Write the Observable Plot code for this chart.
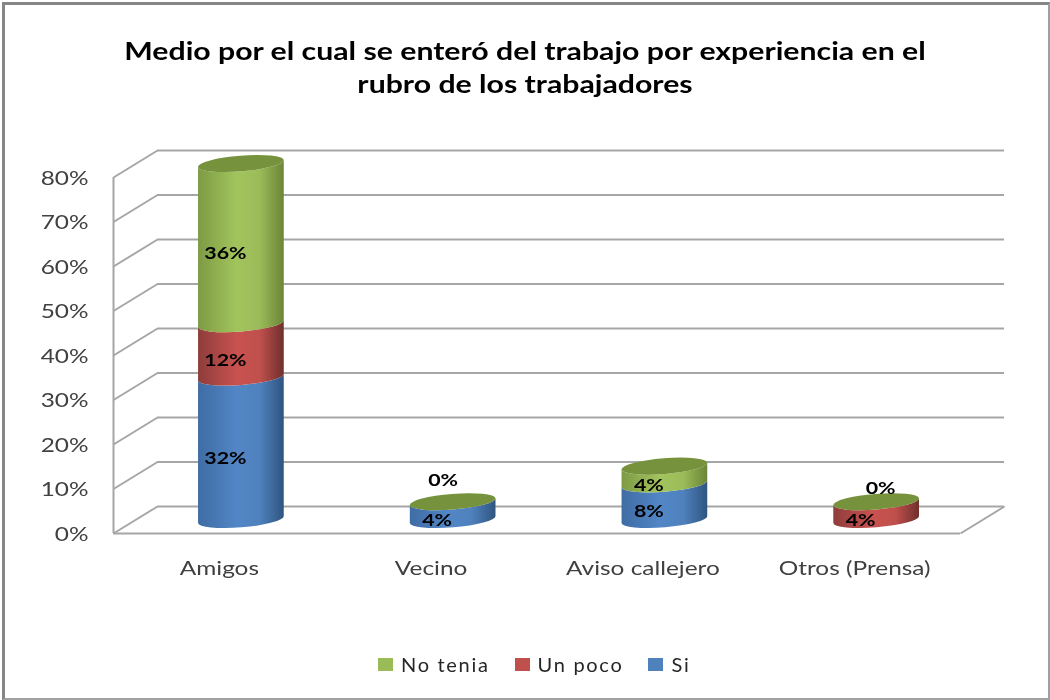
<!DOCTYPE html>
<html lang="es">
<head>
<meta charset="utf-8">
<script src="https://cdn.jsdelivr.net/npm/d3@7"></script>
<script src="https://cdn.jsdelivr.net/npm/@observablehq/plot@0.6"></script>
<style>
  html, body { margin: 0; padding: 0; background: #fff; }
  #page { position: relative; width: 1050px; height: 700px; overflow: hidden; font-family: Lato, sans-serif; filter: blur(0.45px); }
  #frame { position: absolute; left: 2px; top: 2px; width: 1043px; height: 693px; border: 3px solid #868686; border-right: 2px solid #a0a0a0; border-bottom: 2px solid #a0a0a0; pointer-events: none; }
  #title { position: absolute; left: 0; top: 34px; width: 1050px; text-align: center; font-weight: 700; font-size: 24px; line-height: 33px; color: #000; transform: scaleX(1.26); transform-origin: 525px 0; }
  #chart { position: absolute; left: 0; top: 130px; }
  #legend { position: absolute; left: 378px; top: 652px; display: flex; align-items: center; font-size: 20px; color: #262626; letter-spacing: 1.7px; }
  #legend i { display: inline-block; width: 15px; height: 13px; margin-right: 8px; }
  #legend span { margin-right: 25px; }
</style>
</head>
<body>
<div id="page">
  <div id="title">Medio por el cual se enteró del trabajo por experiencia en el<br>rubro de los trabajadores</div>
  <div id="chart"></div>
  <div id="legend"></div>
  <div id="frame"></div>
</div>
<script>
const categories = ["Amigos", "Vecino", "Aviso callejero", "Otros (Prensa)"];
const si = [32, 4, 8, 0];
const unPoco = [12, 0, 0, 4];
const noTenia = [36, 0, 4, 0];
const yTicks = [0, 10, 20, 30, 40, 50, 60, 70, 80];

const seriesList = [
  {name: "Si", values: si, id: "cyl-si", swatch: "#4f81bd", stops: ["#3f6ca4", "#5286c6", "#4f81bd", "#2f5580"]},
  {name: "Un poco", values: unPoco, id: "cyl-poco", swatch: "#c0504d", stops: ["#8e3d3b", "#c8524f", "#c0504d", "#6f2f2d"]},
  {name: "No tenia", values: noTenia, id: "cyl-no", swatch: "#9bbb59", stops: ["#7d9b45", "#a2c45c", "#9bbb59", "#6b8537"]}
];

// Depth of the 3D box, in data units of each scale
const depthX = 0.208, depthY = 6.07;
const halfW = 0.203;
const pos = categories.map((c, i) => i + 0.5);

// Segments built by cumulating the series
const segments = seriesList.map(s => s.values.map((v, i) => {
  const base = seriesList.slice(0, seriesList.indexOf(s)).reduce((a, o) => a + o.values[i], 0);
  return {i, v, y1: base, y2: base + v, name: s.name};
}));
const totals = categories.map((c, i) => seriesList.reduce((a, s) => a + s.values[i], 0));
const labels = segments.flat();

// Tilted elliptical ends: rect marks keep Plot's scales, the geometry is redrawn as a cylinder
const tilt = -4.6;
function ends(r) {
  const x = +r.getAttribute("x"), y = +r.getAttribute("y"), w = +r.getAttribute("width"), h = +r.getAttribute("height");
  const rx = w / 2, ry = w * 0.091, a = tilt * Math.PI / 180, cx = x + rx;
  return {rx, ry, hx: rx * Math.cos(a), hy: rx * Math.sin(a), cx, top: y, bot: y + h};
}
function swapPath(r, d) {
  const p = document.createElementNS("http://www.w3.org/2000/svg", "path");
  p.setAttribute("d", d);
  r.replaceWith(p);
}
function cylinderSide(index, scales, values, dims, context, next) {
  const g = next(index, scales, values, dims, context);
  g.querySelectorAll("rect").forEach(r => {
    const {rx, ry, hx, hy, cx, top, bot} = ends(r);
    swapPath(r, `M${cx - hx},${bot - hy}A${rx},${ry} ${tilt} 0 0 ${cx + hx},${bot + hy}L${cx + hx},${top + hy}A${rx},${ry} ${tilt} 0 1 ${cx - hx},${top - hy}Z`);
  });
  return g;
}
function cylinderCap(index, scales, values, dims, context, next) {
  const g = next(index, scales, values, dims, context);
  g.querySelectorAll("rect").forEach(r => {
    const {rx, ry, hx, hy, cx, top} = ends(r);
    swapPath(r, `M${cx - hx},${top - hy}A${rx},${ry} ${tilt} 1 0 ${cx + hx},${top + hy}A${rx},${ry} ${tilt} 1 0 ${cx - hx},${top - hy}Z`);
  });
  return g;
}
function gradients() {
  const defs = d3.create("svg:defs");
  seriesList.forEach(s => {
    const lg = defs.append("linearGradient").attr("id", s.id);
    [0, 0.45, 0.72, 1].forEach((o, k) => lg.append("stop").attr("offset", o).attr("stop-color", s.stops[k]));
  });
  return defs.node();
}

const gridStyle = {stroke: "#a6a6a6", strokeWidth: 2};
const plot = Plot.plot({
  width: 1050,
  height: 490,
  marginLeft: 113,
  marginRight: 90,
  marginTop: 47,
  marginBottom: 87,
  style: {background: "transparent", overflow: "visible"},
  x: {domain: [0, 4]},
  y: {domain: [0, 80]},
  marks: [
    gradients,
    // back wall grid and side wall diagonals
    Plot.ruleY(yTicks, {y: d => d + depthY, x1: depthX, x2: 4 + depthX, ...gridStyle}),
    Plot.link(yTicks, {x1: 0, x2: depthX, y1: d => d, y2: d => d + depthY, ...gridStyle}),
    // floor right edge, front edge, front vertical
    Plot.link([0], {x1: 4, x2: 4 + depthX, y1: 0, y2: depthY, ...gridStyle}),
    Plot.ruleY([0], {x1: 0, x2: 4, ...gridStyle}),
    Plot.ruleX([0], {y1: 0, y2: 80, ...gridStyle}),
    // cylinders
    ...seriesList.map((s, k) => Plot.rectY(segments[k], {
      x1: d => pos[d.i] + depthX / 2 - halfW,
      x2: d => pos[d.i] + depthX / 2 + halfW,
      y1: d => d.y1 + depthY / 2,
      y2: d => d.y2 + depthY / 2,
      insetTop: 0, insetBottom: 0,
      filter: d => d.v > 0,
      fill: `url(#${s.id})`,
      render: cylinderSide
    })),
    Plot.rectY(totals, {
      x1: (d, i) => pos[i] + depthX / 2 - halfW,
      x2: (d, i) => pos[i] + depthX / 2 + halfW,
      y1: d => d + depthY / 2,
      y2: d => d + depthY / 2,
      fill: "#76923c",
      render: cylinderCap
    }),
    // value labels
    Plot.text(labels.filter(d => d.v > 0), {
      x: d => pos[d.i], y: d => (d.y1 + d.y2) / 2, text: d => d.v + "%",
      dx: 6, dy: -4, fill: "#000", fontWeight: 700, fontSize: 17.5
    }),
    Plot.text(categories.map((c, i) => i).filter(i => categories[i] === "Vecino"), {
      x: i => pos[i], y: i => totals[i], text: i => noTenia[i] + "%",
      dx: 12, dy: -35, fill: "#000", fontWeight: 700, fontSize: 17.5
    }),
    Plot.text(categories.map((c, i) => i).filter(i => categories[i] === "Otros (Prensa)"), {
      x: i => pos[i], y: i => totals[i], text: i => noTenia[i] + "%",
      dx: 26, dy: -27, fill: "#000", fontWeight: 700, fontSize: 17.5
    }),
    // axes
    Plot.axisY(yTicks, {anchor: "left", tickSize: 0, tickPadding: 25, dy: 1, label: null, tickFormat: d => d + "%", fontSize: 20, fill: "#404040"}),
    Plot.axisX(pos, {anchor: "bottom", tickSize: 0, tickPadding: 27, label: null, tickFormat: (d, i) => categories[i], fontSize: 20, fill: "#404040"})
  ]
});
document.getElementById("chart").append(plot);
plot.style.fontFamily = "Lato, sans-serif";

// The reference type is horizontally stretched
plot.querySelectorAll("text").forEach(t => {
  t.setAttribute("textLength", t.getComputedTextLength() * 1.22);
  t.setAttribute("lengthAdjust", "spacingAndGlyphs");
});

const legend = document.getElementById("legend");
[...seriesList].reverse().forEach(s => {
  const i = document.createElement("i");
  i.style.background = s.swatch;
  const t = document.createElement("span");
  t.textContent = s.name;
  legend.append(i, t);
});
</script>
</body>
</html>
